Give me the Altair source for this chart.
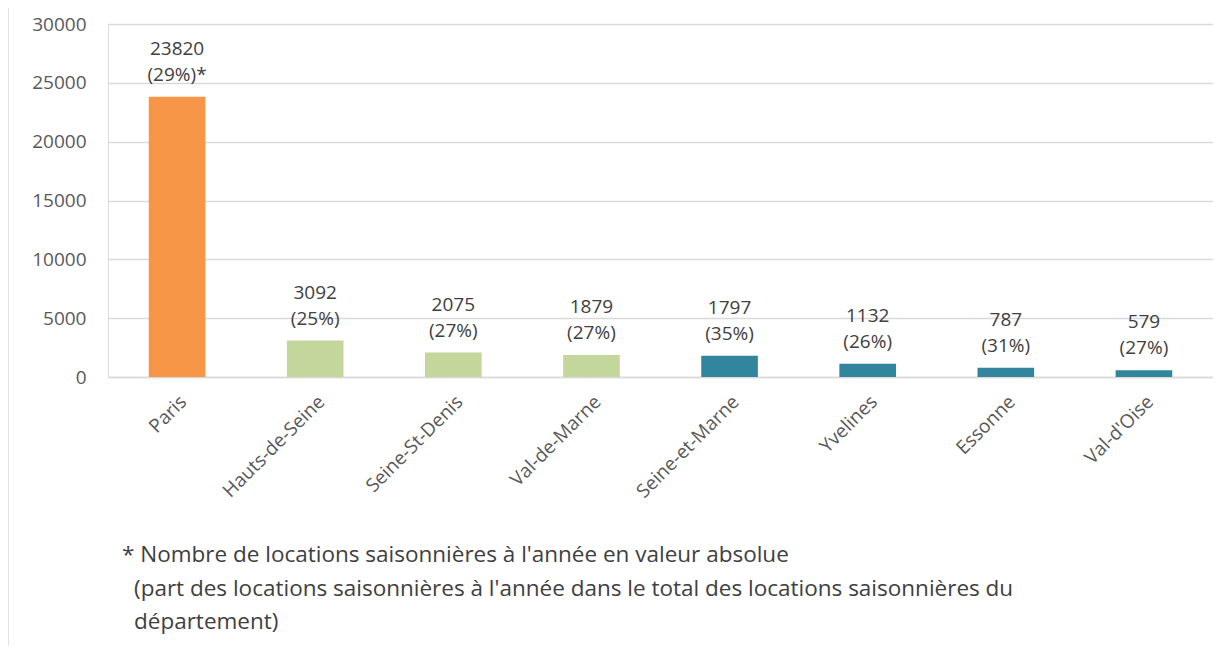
import altair as alt
import pandas as pd

departements = ["Paris", "Hauts-de-Seine", "Seine-St-Denis", "Val-de-Marne",
                "Seine-et-Marne", "Yvelines", "Essonne", "Val-d'Oise"]
valeurs = [23820, 3092, 2075, 1879, 1797, 1132, 787, 579]
parts = ["(29%)*", "(25%)", "(27%)", "(27%)", "(35%)", "(26%)", "(31%)", "(27%)"]
groupes = ["Paris", "Petite couronne", "Petite couronne", "Petite couronne",
           "Grande couronne", "Grande couronne", "Grande couronne", "Grande couronne"]
y_ticks = [0, 5000, 10000, 15000, 20000, 25000, 30000]
footnote = [
    "* Nombre de locations saisonnières à l'année en valeur absolue",
    "(part des locations saisonnières à l'année dans le total des locations saisonnières du",
    "département)",
]

df = pd.DataFrame({
    "dep": departements,
    "val": valeurs,
    "label": [f"{v}\n{p}" for v, p in zip(valeurs, parts)],
    "grp": groupes,
})

FONT = "Open Sans"
W, H = 1105, 353

x = alt.X("dep:N", sort=departements, title=None,
          scale=alt.Scale(paddingInner=0.59, paddingOuter=0.295),
          axis=alt.Axis(labelAngle=-45, labelFontSize=19, labelColor="#595959",
                        labelFont=FONT, ticks=False, domainColor="#D9D9D9",
                        domainWidth=1.5, labelPadding=15))
y = alt.Y("val:Q", title=None,
          scale=alt.Scale(domain=[0, 30000], nice=False),
          axis=alt.Axis(values=y_ticks, format="d", labelFontSize=19, labelColor="#595959",
                        labelFont=FONT, ticks=False, domain=False,
                        gridColor="#D9D9D9", gridWidth=1.5, labelPadding=22))

bars = alt.Chart(df).mark_bar().encode(
    x=x, y=y,
    color=alt.Color("grp:N", legend=None,
                    scale=alt.Scale(domain=["Paris", "Petite couronne", "Grande couronne"],
                                    range=["#F79646", "#C3D69B", "#31859C"])),
)

labels = alt.Chart(df).mark_text(
    baseline="bottom", dy=-38, fontSize=19, font=FONT, color="#404040",
    lineBreak="\n", lineHeight=26,
).encode(x=alt.X("dep:N", sort=departements), y="val:Q", text="label:N")

fn_df = pd.DataFrame({"t": footnote})
text_style = dict(align="left", baseline="middle", fontSize=22.5, font=FONT, color="#404040")
foot_layers = [
    alt.Chart(fn_df.iloc[[0]]).mark_text(**text_style).encode(
        x=alt.value(14), y=alt.value(531), text="t:N"),
    alt.Chart(fn_df.iloc[[1]]).mark_text(**text_style).encode(
        x=alt.value(26), y=alt.value(565), text="t:N"),
    alt.Chart(fn_df.iloc[[2]]).mark_text(**text_style).encode(
        x=alt.value(26), y=alt.value(598), text="t:N"),
]

border = alt.Chart(fn_df.iloc[[0]]).mark_rule(color="#D9D9D9", strokeWidth=1.5).encode(
    x=alt.value(-100), y=alt.value(-16), y2=alt.value(640))

chart = alt.layer(border, bars, labels, *foot_layers).properties(
    width=W, height=H,
    padding={"left": 100, "top": 16, "right": 0, "bottom": 269},
    autosize=alt.AutoSizeParams(type="none"),
).configure_view(stroke=None).configure(background="white")

chart.save("out.html", embed_options={"renderer": "svg", "actions": False})
